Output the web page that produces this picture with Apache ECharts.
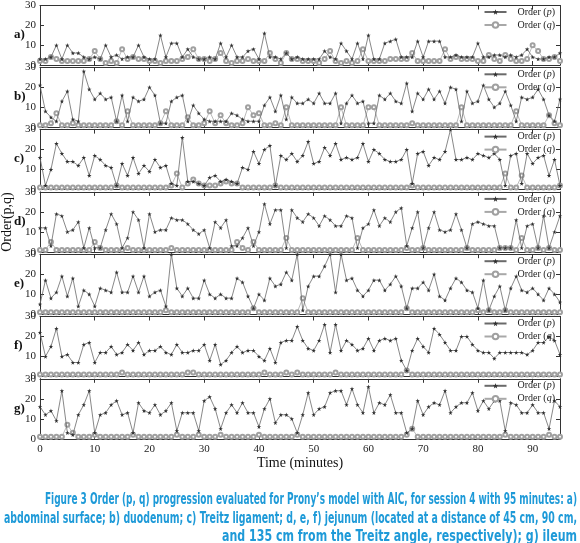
<!DOCTYPE html>
<html><head><meta charset="utf-8">
<script src="https://cdn.jsdelivr.net/npm/echarts@6/dist/echarts.min.js"></script>
<style>html,body{margin:0;padding:0;background:#fff}#c{width:580px;height:543px}</style>
</head><body><div id="c"></div>
<script>
// ---- data ----
const minutes = Array.from({length: 96}, (_, i) => i);
const panelLabels = ['a)', 'b)', 'c)', 'd)', 'e)', 'f)', 'g)'];
const xTickLabels = [0, 10, 20, 30, 40, 50, 60, 70, 80, 90];
const yTickLabels = [0, 10, 20, 30];
const seriesNames = ['Order (p)', 'Order (q)'];

const pA = [3,3,4,10,3,10,6,6,4,3, 4,3,10,4,5,3,4,4,10,4, 3,3,15,4,11,11,4,8,4,3, 3,4,3,11,4,10,4,4,7,8,
            3,16,4,4,3,6,3,4,3,3, 3,3,7,4,3,11,7,3,11,3, 15,3,3,11,12,13,4,4,4,12, 4,12,12,12,4,4,5,4,4,4,
            11,4,4,5,5,4,5,4,5,8, 4,3,3,4,4,6];
const qA = [2,2,4,3,2,2,2,2,2,3, 7,3,1,2,1,8,3,4,3,3, 2,2,1,2,2,2,3,4,8,3, 3,2,3,6,2,1,2,2,3,2,
            2,2,6,3,1,6,3,3,2,2, 2,1,3,7,2,1,2,1,2,8, 2,2,2,2,3,3,3,3,6,2, 2,2,2,2,8,3,4,3,3,3,
            2,2,5,3,2,5,3,2,2,3, 10,7,3,3,4,2];

const pB = [21,8,5,3,13,18,4,3,28,19, 14,17,14,15,3,16,3,15,13,14, 20,16,2,2,13,15,16,3,11,7, 4,3,3,3,3,7,6,4,3,3,
            3,11,15,8,16,4,15,12,12,14, 12,17,12,12,17,2,12,16,12,13, 2,2,16,14,17,13,12,22,8,17, 14,19,14,18,12,20,19,3,18,12,
            13,21,14,10,12,18,11,3,15,14, 15,19,14,6,3,14];
const qB = [1,1,2,7,1,1,2,1,1,1, 1,1,1,1,3,1,8,1,1,1, 1,1,2,8,1,1,1,5,1,1, 2,8,2,6,2,1,1,2,10,6,
            7,1,1,2,1,10,1,1,1,1, 1,1,1,1,1,10,1,1,1,1, 10,10,1,1,1,1,1,1,2,1, 1,1,1,1,1,1,1,10,1,1,
            1,1,1,1,1,1,1,8,1,1, 1,1,1,6,2,1];

const pC = [16,2,10,23,18,14,14,12,16,7, 17,15,12,11,2,13,7,16,8,12, 9,15,11,12,3,2,26,4,4,3, 2,6,7,4,5,4,3,11,10,19,
            13,20,22,2,17,15,18,14,17,24, 13,14,21,17,23,15,16,15,16,23, 14,20,18,15,14,14,15,20,3,18, 19,12,16,15,19,30,15,15,16,15,
            18,17,16,18,15,2,17,18,3,18, 13,16,17,7,15,2];
const qC = [1,1,1,1,1,1,1,1,1,1, 1,1,1,1,2,1,1,1,1,1, 1,1,1,1,2,8,1,3,5,3, 2,2,2,3,4,3,3,1,1,1,
            1,1,1,2,1,1,1,1,1,1, 1,1,1,1,1,1,1,1,1,1, 1,1,1,1,1,1,1,1,2,1, 1,1,1,1,1,1,1,1,1,1,
            1,1,1,1,1,8,1,1,7,1, 1,1,1,1,1,2];

const pD = [12,12,3,19,18,10,11,15,2,12, 2,2,11,19,14,2,7,20,16,2, 19,10,11,11,17,16,16,14,11,9, 11,2,15,12,16,3,3,7,12,3,
            10,24,14,21,21,2,21,17,15,19, 17,13,18,16,13,13,18,17,2,12, 14,21,13,17,15,20,22,3,12,20, 2,12,20,11,10,11,19,11,2,14,
            15,14,13,13,2,2,2,16,2,13, 14,2,18,2,10,18];
const qD = [1,1,5,1,1,1,1,1,1,1, 5,2,1,1,1,1,2,1,1,1, 1,1,1,1,2,1,1,1,1,1, 1,1,1,1,1,1,5,2,1,5,
            1,1,1,1,1,7,1,1,1,1, 1,1,1,1,1,1,1,1,7,1, 1,1,1,1,1,1,1,2,1,1, 2,1,1,1,1,1,1,1,2,1,
            1,1,1,1,2,2,2,1,7,1, 1,2,1,2,1,1];

const pE = [5,17,8,11,19,9,18,4,12,10, 4,13,12,11,21,11,11,19,11,19, 9,11,12,4,30,13,9,13,8,8, 17,10,8,10,8,8,18,16,9,3,
            10,7,18,14,15,21,17,30,2,14, 19,19,24,30,11,30,17,18,12,9, 12,17,17,12,15,19,14,3,13,13, 16,12,20,9,7,13,18,16,12,11,
            3,17,2,9,14,2,13,19,12,11, 13,10,7,13,10,6];
const qE = [1,1,1,1,1,1,1,1,1,1, 1,1,1,1,1,1,1,1,1,1, 1,1,1,2,1,1,1,1,1,1, 1,1,1,1,1,1,1,1,1,3,
            1,1,1,1,1,1,1,1,8,1, 1,1,1,1,1,1,1,1,1,1, 1,1,1,1,1,1,1,3,1,1, 1,1,1,1,1,1,1,1,1,1,
            2,1,2,1,1,2,1,1,1,1, 1,1,1,1,1,1];

const pF = [22,10,15,24,10,11,7,7,16,17, 7,12,12,15,11,12,16,13,17,11, 13,13,15,12,11,16,12,12,13,13, 16,8,16,6,8,12,15,12,13,13,
            10,8,14,7,17,18,18,25,18,14, 13,18,26,12,26,13,18,16,13,14, 19,13,18,19,18,19,8,3,13,19, 15,12,24,21,17,13,13,20,20,16,
            13,12,12,9,12,12,12,12,12,11, 13,17,17,20,18,11];
const qF = [1,1,1,1,1,1,1,1,1,1, 1,1,1,1,1,2,1,1,1,1, 1,1,1,1,1,1,1,2,2,1, 1,1,1,1,1,1,1,1,1,1,
            1,2,1,1,1,2,1,2,1,1, 1,1,1,1,2,1,1,1,1,1, 1,1,1,1,1,1,1,3,1,1, 1,1,1,1,1,1,1,1,1,1,
            1,1,1,1,1,1,1,1,1,1, 1,1,1,1,1,1];

const pG = [16,12,14,9,24,3,2,12,17,24, 3,12,13,17,19,12,13,3,18,14, 13,17,12,14,18,4,13,13,13,4, 19,21,15,5,13,17,13,18,13,13,
            6,15,20,8,12,12,10,3,12,23, 12,15,16,23,24,24,17,25,17,13, 26,13,18,17,22,13,13,3,5,19, 12,16,18,17,24,13,16,18,18,23,
            14,19,15,19,19,4,18,17,13,13, 17,13,13,5,19,16];
const qG = [1,1,1,1,1,7,3,1,1,1, 2,1,1,1,1,1,1,2,1,1, 1,1,1,1,1,2,1,1,1,2, 1,1,1,2,1,1,1,1,1,1,
            2,1,1,1,1,1,1,2,1,1, 1,1,1,1,1,1,1,1,1,1, 1,1,1,1,1,1,1,2,5,1, 1,1,1,1,1,1,1,1,1,1,
            1,1,1,1,1,2,1,1,1,1, 1,1,1,2,1,1];

const captionLines = [
  "Figure 3 Order (p, q) progression evaluated for Prony\u2019s model with AIC, for session 4 with 95 minutes: a)",
  "abdominal surface; b) duodenum; c) Treitz ligament; d, e, f) jejunum (located at a distance of 45 cm, 90 cm,",
  "and 135 cm from the Treitz angle, respectively); g) ileum"
];

// ---- layout / style ----
const P = [pA, pB, pC, pD, pE, pF, pG];
const Q = [qA, qB, qC, qD, qE, qF, qG];
const TOP0 = 5, PITCH = 62.3, H = 60, LEFT = 40, RIGHT = 20;
const SERIF = "'Liberation Serif', 'DejaVu Serif', serif";
const STAR = 'path://M50,0 L61,35 L98,35 L68,57 L79,91 L50,70 L21,91 L32,57 L2,35 L39,35 Z';
const AX = '#333';

const grids = [], xAxes = [], yAxes = [], series = [], legends = [], graphics = [];
P.forEach((p, i) => {
  const top = TOP0 + PITCH * i;
  grids.push({left: LEFT, right: RIGHT, top: top, height: H, show: false});
  const last = i === P.length - 1;
  const xBase = {
    type: 'value', gridIndex: i, min: 0, max: 95, interval: 10,
    axisLine: {show: true, onZero: false, lineStyle: {color: AX, width: 1}},
    axisTick: {show: true, inside: true, length: 4, lineStyle: {color: AX}},
    splitLine: {show: false}
  };
  xAxes.push(Object.assign({}, xBase, {
    position: 'bottom',
    axisLabel: {show: last, fontFamily: SERIF, fontSize: 11, color: '#222', margin: 5,
      formatter: v => (xTickLabels.indexOf(v) >= 0 ? String(v) : '')},
    name: last ? 'Time (minutes)' : '', nameLocation: 'middle', nameGap: 18,
    nameTextStyle: {fontFamily: SERIF, fontSize: 14, color: '#111'}
  }));
  xAxes.push(Object.assign({}, xBase, {position: 'top', axisLabel: {show: false}}));
  const yBase = {
    type: 'value', gridIndex: i, min: 0, max: 30, interval: 10,
    axisLine: {show: true, onZero: false, lineStyle: {color: AX, width: 1}},
    axisTick: {show: true, inside: true, length: 4, lineStyle: {color: AX}},
    splitLine: {show: false}
  };
  yAxes.push(Object.assign({}, yBase, {
    position: 'left',
    axisLabel: {show: true, fontFamily: SERIF, fontSize: 11, color: '#222', margin: 4,
      formatter: v => (yTickLabels.indexOf(v) >= 0 ? String(v) : '')}
  }));
  yAxes.push(Object.assign({}, yBase, {position: 'right', axisLabel: {show: false}}));

  series.push({
    name: seriesNames[1], type: 'line', xAxisIndex: 2 * i, yAxisIndex: 2 * i,
    data: Q[i].map((v, k) => [minutes[k], v]),
    symbol: 'emptyCircle', symbolSize: 4, showAllSymbol: true,
    lineStyle: {color: '#a8a8a8', width: 0.8},
    itemStyle: {color: '#a0a0a0', borderWidth: 0.7},
    animation: false, z: 2
  });
  series.push({
    name: seriesNames[0], type: 'line', xAxisIndex: 2 * i, yAxisIndex: 2 * i,
    data: p.map((v, k) => [minutes[k], v]),
    symbol: STAR, symbolSize: 4.5, showAllSymbol: true,
    lineStyle: {color: '#6a6a6a', width: 0.8},
    itemStyle: {color: '#303030'},
    animation: false, z: 3
  });

  legends.push({
    data: seriesNames, orient: 'vertical', right: 25, top: top + 2, padding: 0,
    itemWidth: 22, itemHeight: 7, itemGap: 3, selectedMode: false,
    textStyle: {fontFamily: SERIF, fontSize: 10, color: '#222', padding: [0, 0, 0, 6],
      rich: {i: {fontFamily: SERIF, fontSize: 10, fontStyle: 'italic', color: '#222'}}},
    formatter: n => n === seriesNames[0] ? 'Order ({i|p})' : 'Order ({i|q})'
  });

  graphics.push({
    type: 'text', left: 14, top: top + 23,
    style: {text: panelLabels[i], font: "bold 13px 'Liberation Serif', serif", fill: '#111'}
  });
});

graphics.push({
  type: 'text', x: 7, y: 222, rotation: Math.PI / 2,
  style: {text: 'Order(p,q)', font: "14px 'Liberation Serif', serif", fill: '#111', align: 'center', verticalAlign: 'middle'}
});

// caption: right-aligned, each line squeezed to the width it takes in the figure
const CAP_FONT = "bold 15px 'Liberation Sans Narrow', 'DejaVu Sans Condensed', sans-serif";
const capY = [500, 519, 537];
const capLeft = [45, 4, 222];
const CAP_RIGHT = 577;
const mctx = document.createElement('canvas').getContext('2d');
mctx.font = CAP_FONT;
captionLines.forEach((t, j) => {
  const w = mctx.measureText(t).width;
  const sx = (CAP_RIGHT - capLeft[j]) / w;
  graphics.push({
    type: 'text', x: CAP_RIGHT, y: capY[j], scaleX: sx,
    style: {text: t, font: CAP_FONT, fill: '#1e9ad8', align: 'right', verticalAlign: 'middle'}
  });
});

const chart = echarts.init(document.getElementById('c'), null, {renderer: 'canvas'});
chart.setOption({
  animation: false,
  backgroundColor: '#fff',
  grid: grids, xAxis: xAxes, yAxis: yAxes, series: series,
  legend: legends, graphic: graphics
});
</script>
</body></html>
